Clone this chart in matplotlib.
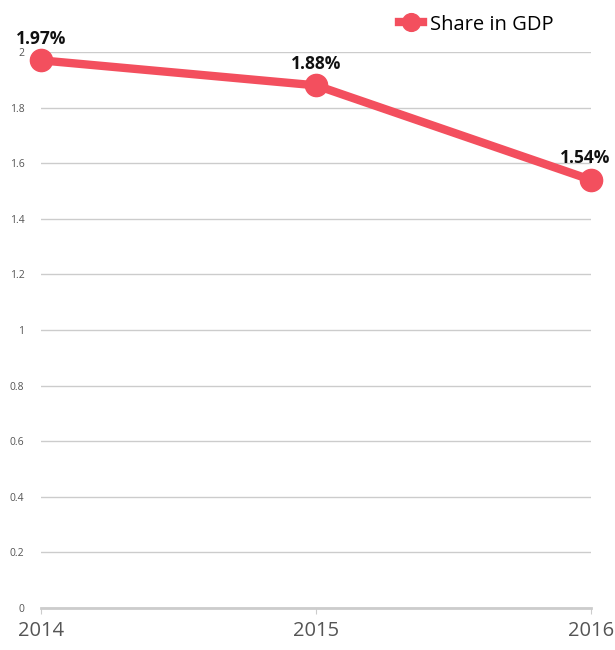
import matplotlib
matplotlib.use("Agg")
import matplotlib.pyplot as plt

years = [2014, 2015, 2016]
share = [1.97, 1.88, 1.54]
labels = ["1.97%", "1.88%", "1.54%"]
yticks = [0, 0.2, 0.4, 0.6, 0.8, 1, 1.2, 1.4, 1.6, 1.8, 2]

RED = "#f34f5e"
plt.rcParams["font.family"] = ["Open Sans", "DejaVu Sans"]

fig = plt.figure(figsize=(6.15, 6.5), dpi=100)
ax = fig.add_axes([41 / 615, 42 / 650, 550 / 615, 556 / 650])

ax.plot(years, share, "-o", color=RED, lw=6, ms=16, clip_on=False,
        zorder=3, label="Share in GDP")
for x, y, t, dx in zip(years, share, labels, [0, 0, -4]):
    ax.annotate(t, (x, y), xytext=(dx, 9), textcoords="offset points",
                ha="center", va="bottom", fontsize=12.5, fontweight="bold",
                color="#111111")

ax.set_xlim(2014, 2016)
ax.set_ylim(0, 2)
ax.set_xticks(years)
ax.set_xticklabels([str(y) for y in years], fontsize=14.5, color="#555555")
ax.set_yticks(yticks)
ax.set_yticklabels(["%g" % v for v in yticks], fontsize=7.5, color="#555555")
ax.tick_params(axis="y", length=0, pad=12)
ax.tick_params(axis="x", length=4, color="#cccccc", pad=5)
ax.grid(axis="y", color="#cccccc", lw=1)
ax.set_axisbelow(True)
for s in ["top", "right", "left"]:
    ax.spines[s].set_visible(False)
ax.spines["bottom"].set_color("#cccccc")
ax.spines["bottom"].set_linewidth(2)

ax.legend(loc="upper left", bbox_to_anchor=(340 / 550, 1.1), frameon=False,
          fontsize=14.5, handlelength=1.2, handletextpad=0.35,
          markerscale=0.8)

fig.savefig("out.png", dpi=100)
